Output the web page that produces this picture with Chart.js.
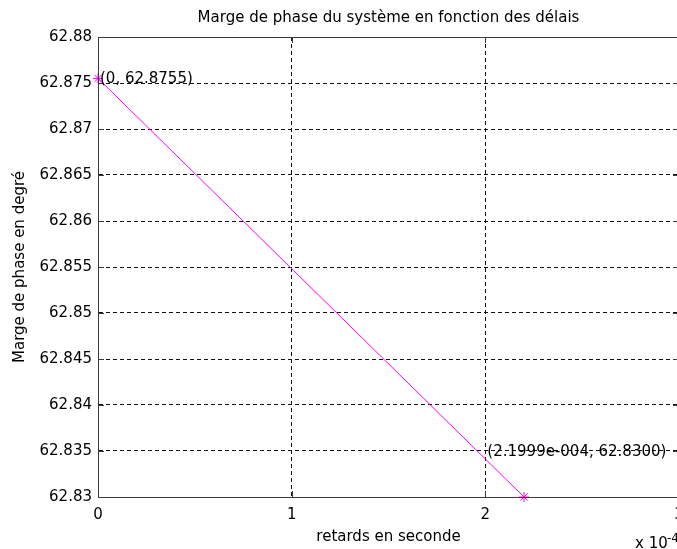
<!DOCTYPE html>
<html><head><meta charset="utf-8">
<script src="https://cdn.jsdelivr.net/npm/chart.js@4/dist/chart.umd.min.js"></script>
<style>html,body{margin:0;padding:0;background:#fff;overflow:hidden;width:677px;height:549px}canvas{display:block}</style>
</head><body>
<canvas id="c" width="685" height="549"></canvas>
<script>
const chartTitle = 'Marge de phase du système en fonction des délais';
const xAxisTitle = 'retards en seconde';
const yAxisTitle = 'Marge de phase en degré';
const delaysSeconds = [0, 2.1999e-4];
const phaseMarginDeg = [62.8755, 62.8300];
const xTickValues = [0, 1e-4, 2e-4, 3e-4];
const xTickLabels = ['0', '1', '2', '3'];
const xExponentLabel = ['x 10', '-4'];
const yTickValues = [62.83, 62.835, 62.84, 62.845, 62.85, 62.855, 62.86, 62.865, 62.87, 62.875, 62.88];
const yTickLabels = ['62.83', '62.835', '62.84', '62.845', '62.85', '62.855', '62.86', '62.865', '62.87', '62.875', '62.88'];
const annotationTexts = ['(0, 62.8755)', '(2.1999e-004, 62.8300)'];
const annotationX = [0, 2.0e-4];
const annotationY = [62.8755, 62.835];

const FONT = 'DejaVu Sans';
const AXIS_COLOR = '#3a3a3a';
const VIEW_WIDTH = 677;

const framePlugin = {
  id: 'frame',
  afterDraw(chart) {
    const {ctx, chartArea: a, scales: {x, y}} = chart;
    ctx.save();
    ctx.strokeStyle = AXIS_COLOR;
    ctx.lineWidth = 1;
    ctx.beginPath();
    xTickValues.forEach(v => {
      const px = Math.round(x.getPixelForValue(v)) + 0.5;
      ctx.moveTo(px, a.bottom); ctx.lineTo(px, a.bottom - 6);
      ctx.moveTo(px, a.top); ctx.lineTo(px, a.top + 6);
    });
    yTickValues.forEach(v => {
      const py = Math.round(y.getPixelForValue(v)) + 0.5;
      ctx.moveTo(a.left, py); ctx.lineTo(a.left + 6, py);
      ctx.moveTo(a.right, py); ctx.lineTo(a.right - 6, py);
    });
    ctx.stroke();
    ctx.strokeRect(Math.round(a.left) + 0.5, Math.round(a.top) + 0.5, Math.round(a.right - a.left), Math.round(a.bottom - a.top));
    ctx.fillStyle = '#000';
    ctx.font = '15px "' + FONT + '"';
    ctx.textAlign = 'left';
    ctx.textBaseline = 'middle';
    annotationTexts.forEach((t, i) => {
      ctx.fillText(t, x.getPixelForValue(annotationX[i]) + 2, y.getPixelForValue(annotationY[i]) + 1);
    });
    ctx.textBaseline = 'alphabetic';
    ctx.font = '15px "' + FONT + '"';
    ctx.fillText(xExponentLabel[0], VIEW_WIDTH - 42, chart.height - 1);
    ctx.font = '12px "' + FONT + '"';
    ctx.fillText(xExponentLabel[1], VIEW_WIDTH - 10, chart.height - 7);
    ctx.restore();
  }
};

new Chart(document.getElementById('c'), {
  type: 'line',
  data: {
    datasets: [{
      data: delaysSeconds.map((d, i) => ({x: d, y: phaseMarginDeg[i]})),
      borderColor: '#ff00ff',
      backgroundColor: '#ff00ff',
      borderWidth: 1,
      pointStyle: 'star',
      pointRadius: 5,
      pointHoverRadius: 5,
      pointBorderWidth: 1,
      pointBorderColor: '#ff00ff',
      fill: false,
      clip: false,
      tension: 0
    }]
  },
  options: {
    responsive: false,
    animation: false,
    devicePixelRatio: 1,
    events: [],
    layout: {padding: {left: 0, right: 0, top: 0, bottom: 0}},
    plugins: {
      legend: {display: false},
      tooltip: {enabled: false},
      title: {
        display: true,
        text: chartTitle,
        fullSize: false,
        color: '#000',
        font: {family: FONT, size: 15, weight: 'normal', lineHeight: 1.2},
        padding: {top: 9, bottom: 10}
      }
    },
    scales: {
      x: {
        type: 'linear',
        min: 0, max: 3e-4,
        afterBuildTicks: s => { s.ticks = xTickValues.map(v => ({value: v})); },
        afterFit: s => { s.height = 52; s.paddingLeft = 0; s.paddingRight = 0; },
        ticks: {
          color: '#000',
          font: {family: FONT, size: 15},
          padding: 9,
          maxRotation: 0,
          autoSkip: false,
          callback: (v, i) => xTickLabels[i]
        },
        grid: {color: '#111', lineWidth: 1, drawTicks: false},
        border: {display: true, color: AXIS_COLOR, dash: [4, 3]},
        title: {
          display: true, text: xAxisTitle, color: '#000',
          font: {family: FONT, size: 15, lineHeight: 1.2},
          padding: {top: 0, bottom: 3}
        }
      },
      y: {
        type: 'linear',
        min: 62.83, max: 62.88,
        afterBuildTicks: s => { s.ticks = yTickValues.map(v => ({value: v})); },
        afterFit: s => { s.width = 98; s.paddingTop = 0; s.paddingBottom = 0; },
        ticks: {
          color: '#000',
          font: {family: FONT, size: 15},
          padding: 6,
          autoSkip: false,
          callback: (v, i) => yTickLabels[i]
        },
        grid: {color: '#111', lineWidth: 1, drawTicks: false},
        border: {display: true, color: AXIS_COLOR, dash: [4, 3]},
        title: {
          display: true, text: yAxisTitle, color: '#000',
          font: {family: FONT, size: 15, lineHeight: 1.2},
          padding: {top: 11, bottom: 0}
        }
      }
    }
  },
  plugins: [framePlugin]
});
</script>
</body></html>
